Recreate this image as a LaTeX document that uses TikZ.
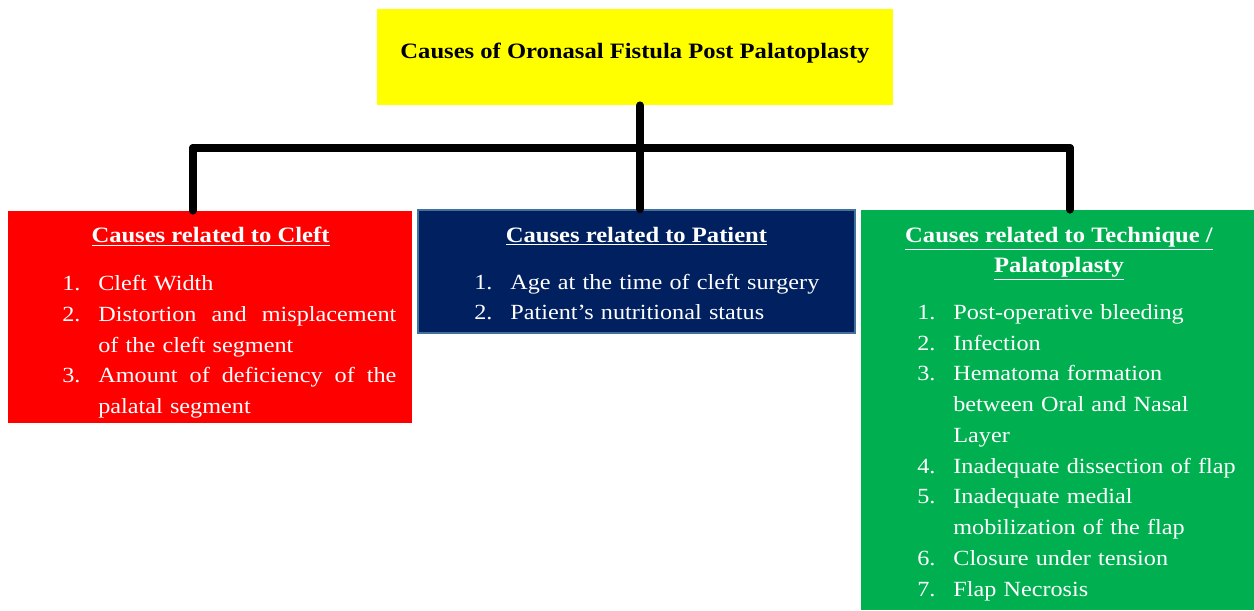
\documentclass[tikz,border=0pt]{standalone}
\usepackage{fontspec}
\setmainfont[FakeStretch=1.12]{Liberation Serif}
\usepackage{xcolor}
\usetikzlibrary{positioning}

\definecolor{titleyellow}{HTML}{FFFF00}
\definecolor{cleftred}{HTML}{FF0000}
\definecolor{patientnavy}{HTML}{002060}
\definecolor{patientedge}{HTML}{41719C}
\definecolor{techgreen}{HTML}{00B050}

\setlength{\parskip}{0pt}
% numbered line with hanging text
\newcommand{\litem}[2]{\hangindent=0.72cm\hangafter=1\noindent\makebox[0.72cm][l]{#1}#2\par}
% justified line of the cleft list
\newcommand{\jline}[1]{\makebox[5.96cm][l]{#1}}

\begin{document}
\begin{tikzpicture}
  % Styles
  \tikzset{
    titlebox/.style={rectangle, fill=titleyellow, minimum width=10.32cm, minimum height=1.92cm, inner sep=0},
    cleftbox/.style={rectangle, fill=cleftred, minimum width=8.08cm, minimum height=4.24cm, inner sep=0},
    patientbox/.style={rectangle, draw=patientedge, line width=0.8pt, fill=patientnavy, minimum width=8.74cm, minimum height=2.46cm, inner sep=0},
    techbox/.style={rectangle, fill=techgreen, minimum width=7.86cm, minimum height=8.0cm, inner sep=0},
    titletext/.style={inner sep=0, font=\fontsize{12.5}{15}\selectfont\bfseries},
    heading/.style={inner sep=0, anchor=north, text=white, align=center,
      font=\fontsize{12.5}{17.2}\selectfont\bfseries},
    itemlist/.style={inner sep=0, anchor=north west, text=white,
      font=\fontsize{12.3}{17.5}\selectfont},
    link/.style={line width=4.5pt, line cap=round, black}
  }

  % page
  \path[use as bounding box, fill=white] (0,0) rectangle (25.08,-12.2);

  % Header
  \node[titlebox] (title) at (12.7,-1.14) {};
  \node[titletext] (titleText) at (12.7,-1.06) {Causes of Oronasal Fistula Post Palatoplasty};

  % Cleft
  \node[cleftbox] (cleft) at (4.2,-6.34) {};
  \node[heading] (cleftHead) at (4.21,-4.53) {\underline{Causes related to Cleft}};
  \node[itemlist, text width=6.68cm] (cleftList) at (1.24,-5.5) {\raggedright
    \litem{1.}{Cleft Width}%
    \litem{2.}{\jline{Distortion\hfill and\hfill misplacement}\newline of the cleft segment}%
    \litem{3.}{\jline{Amount\hfill of\hfill deficiency\hfill of\hfill the}\newline palatal segment}};

  % Patient
  \node[patientbox] (patient) at (12.73,-5.43) {};
  \node[heading] (patientHead) at (12.73,-4.53) {\underline{Causes related to Patient}};
  \node[itemlist, text width=7.4cm] (patientList) at (9.48,-5.47) {\raggedright
    \litem{1.}{Age at the time of cleft surgery}%
    \litem{2.}{Patient’s nutritional status}};

  % Technique
  \node[techbox] (tech) at (21.15,-8.2) {};
  \node[heading] (techHead) at (21.18,-4.53) {\underline{Causes related to Technique /}\\\underline{Palatoplasty}};
  \node[itemlist, text width=6.7cm] (techList) at (18.34,-6.08) {\raggedright
    \litem{1.}{Post-operative bleeding}%
    \litem{2.}{Infection}%
    \litem{3.}{Hematoma formation\newline between Oral and Nasal\newline Layer}%
    \litem{4.}{Inadequate dissection of flap}%
    \litem{5.}{Inadequate medial\newline mobilization of the flap}%
    \litem{6.}{Closure under tension}%
    \litem{7.}{Flap Necrosis}};

  % Connectors
  \coordinate (busL) at (3.86,-2.96);
  \coordinate (busR) at (21.40,-2.96);
  \coordinate (stem) at (12.8,-2.96);
  \draw[link] (busL) -- (busR);
  \draw[link] (stem |- title.south) -- (stem |- patient.north);
  \draw[link] (busL) -- (busL |- cleft.north);
  \draw[link] (busR) -- (busR |- tech.north);

\end{tikzpicture}
\end{document}
